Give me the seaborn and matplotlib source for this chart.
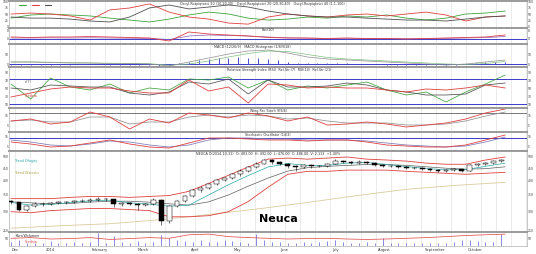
import numpy as np
import pandas as pd
import matplotlib
matplotlib.use("Agg")
import matplotlib.pyplot as plt
from matplotlib.ticker import NullLocator
import seaborn as sns

# ------------------------------------------------------------------ data
days_c = list(range(0, 249, 4))            # candle positions (trading days)
opens = [330, 326, 305, 316, 322, 320, 325, 328, 326, 330, 332, 335, 338, 336, 320, 324, 322, 318, 320, 335,
         275, 315, 330, 345, 365, 374, 388, 402, 410, 425, 440, 455, 470, 485, 476, 468, 460, 455, 462, 458,
         460, 470, 482, 478, 474, 478, 472, 465, 460, 458, 455, 452, 450, 446, 443, 440, 442, 445, 440, 462,
         468, 474, 480]
closes = [326, 305, 316, 322, 320, 325, 328, 326, 330, 332, 335, 338, 336, 320, 324, 322, 318, 320, 335, 275,
          315, 330, 345, 365, 374, 388, 402, 410, 425, 440, 455, 470, 485, 476, 468, 460, 455, 462, 458, 460,
          470, 482, 478, 474, 478, 472, 465, 460, 458, 455, 452, 450, 446, 443, 440, 442, 445, 440, 462, 468,
          474, 480, 486]
highs = [334, 328, 319, 326, 327, 329, 332, 331, 334, 336, 339, 342, 341, 338, 328, 327, 325, 324, 340, 336,
         318, 334, 349, 369, 380, 393, 406, 416, 430, 445, 460, 475, 492, 490, 480, 472, 464, 466, 466, 465,
         474, 490, 486, 482, 484, 482, 476, 469, 464, 462, 459, 456, 454, 450, 447, 446, 449, 448, 466, 472,
         478, 485, 492]
lows = [322, 300, 302, 313, 316, 317, 322, 321, 323, 327, 328, 331, 332, 312, 316, 318, 305, 314, 317, 265,
        270, 311, 327, 342, 360, 370, 384, 398, 405, 420, 436, 450, 466, 470, 462, 450, 440, 450, 452, 454,
        456, 466, 472, 468, 470, 466, 460, 455, 453, 450, 447, 445, 441, 438, 435, 436, 438, 434, 437, 458,
        464, 470, 476]
volume = [30, 45, 25, 20, 22, 35, 18, 25, 30, 20, 28, 90, 25, 70, 30, 25, 35, 20, 30, 80,
          60, 40, 35, 30, 45, 30, 28, 40, 35, 30, 25, 85, 45, 30, 28, 25, 22, 30, 25, 28,
          35, 45, 30, 25, 22, 28, 20, 60, 22, 18, 20, 25, 22, 18, 20, 25, 30, 45, 40, 35,
          30, 28, 85]

days_s = list(range(0, 251, 10))           # indicator sample positions
bb_upper = [338, 338, 338, 342, 345, 345, 342, 345, 348, 362, 390, 421, 455, 490, 495, 490, 495, 500, 490,
            486, 481, 472, 467, 467, 486, 500]
bb_lower = [299, 296, 302, 305, 308, 308, 305, 302, 285, 285, 288, 299, 329, 376, 425, 437, 437, 442, 442,
            442, 437, 433, 429, 425, 429, 433]
ma_short = [326, 318, 320, 326, 331, 333, 325, 321, 315, 318, 350, 385, 420, 455, 470, 462, 462, 472, 475,
            466, 457, 449, 443, 444, 458, 472]
ma_mid = [328, 325, 322, 323, 327, 330, 330, 327, 322, 318, 328, 350, 380, 410, 438, 452, 458, 462, 466,
          466, 462, 456, 450, 446, 448, 456]
days_l = list(range(0, 251, 25))
ma_long = [256, 262, 267, 277, 291, 307, 326, 348, 369, 383, 394]

osc_green = [33, 46, 50, 46, 42, 33, 25, 17, 29, 46, 58, 50, 33, 25, 29, 37.5, 33, 42, 37.5, 46, 33, 25,
             33, 50, 54, 62.5]
osc_red = [50, 54, 50, 42, 25, 67, 75, 92, 58, 37.5, 29, 12.5, 8, 37.5, 50, 42, 37.5, 46, 50, 42, 50, 58,
           46, 21, 37.5, 42]
osc_dark = [37.5, 33, 33, 29, 21, 17, 37.5, 75, 87.5, 71, 79, 87.5, 79, 62.5, 50, 42, 37.5, 37.5, 33, 29,
            25, 25, 21, 29, 37.5, 42]

roc_red = [2, 1.5, 2, 2, 2.5, 2, 1.5, 1, -2, 7, 5, 4, 3, 1.5, 1, 1, 0.5, 1, 0.5, 0.5, 0, 0.5, 1, 1.5, 2, 4]
roc_avg = [1, 1, 1.2, 1, 1.2, 1, 0.8, 0.6, -0.5, 3, 4, 3.5, 3, 2, 1.2, 0.8, 0.6, 0.7, 0.5, 0.4, 0.2, 0.3,
           0.6, 1, 1.4, 2.5]

macd_line = [2, 2, 1.5, 1, 1, 0.5, 0.5, 0, -2, 2, 6, 10, 13, 14, 11, 7, 5, 4, 3, 2, 1, 0, -1, 0, 2, 4]
macd_signal = [2, 2, 1.8, 1.3, 1, 0.8, 0.6, 0.3, -1.2, 0, 3, 7, 10.5, 13, 12.5, 9.5, 6.5, 5, 4, 3, 2, 1, 0,
               -0.5, 0.5, 2.5]
days_h = list(range(0, 251, 5))
macd_hist = [-0.5, -0.8, -1, -1, -0.8, -0.6, -0.5, -0.4, -0.3, -0.4, -0.5, -0.6, -0.5, -0.6, -0.8, -2.5,
             -1.5, 1, 2.5, 3.5, 4.5, 5.5, 6, 6.5, 6, 5.5, 5, 4, 2.5, 1.5, 1, 0.8, 1.2, 1.5, 1, 0.5, 0.3,
             -0.3, -0.5, -0.8, -1, -1.2, -1.3, -1.2, -1, -0.5, 0.5, 1.5, 2, 2.5, 2.5]

rsi_green = [60, 22.5, 75, 52.5, 45, 60, 37.5, 50, 45, 72.5, 70, 77.5, 50, 70, 45, 55, 50, 57.5, 65, 45,
             32.5, 40, 15, 40, 60, 82.5]
rsi_red = [27.5, 37.5, 47.5, 52.5, 50, 50, 42.5, 37.5, 37.5, 70, 42.5, 52.5, 12.5, 60, 57.5, 50, 52.5, 50,
           50, 45, 40, 47.5, 45, 50, 57.5, 50]
rsi_dark = [50, 45, 57.5, 55, 52.5, 52.5, 37.5, 32.5, 40, 65, 60, 72.5, 35, 70, 52.5, 52.5, 55, 62.5, 57.5,
            45, 40, 32.5, 32.5, 35, 57.5, 62.5]

wpc_red = [10, 12, 7, 9, 19, 14, 2, 12, 8, 18, 16, 13, 18, 15, 10, 14, 6, 7, 9, 7, 4, 6, 8, 12, 18, 22]
wpc_grey = [10, 11, 9, 9, 14, 14, 7, 9, 9, 14, 16, 14, 16, 15, 12, 13, 10, 8, 8, 8, 6, 6, 7, 10, 15, 19]

sto_red = [9, 7, 4, 5, 8, 11, 7, 4, 3, 8, 13, 13, 12, 11, 11, 10, 11, 11, 9, 6, 5, 4, 4, 6, 11, 16]
sto_blue = [11, 9, 6, 5, 7, 10, 9, 6, 4, 6, 11, 13, 13, 12, 12, 11, 11, 11, 10, 8, 6, 5, 4, 5, 9, 14]

vol_avg = [55, 60, 50, 53, 60, 47, 53, 60, 55, 80, 85, 67, 60, 55, 50, 53, 55, 50, 47, 50, 55, 60, 67, 75,
           80, 85]

month_pos = [2, 19.7, 45, 66.7, 93, 114.6, 138.4, 164, 189, 214.6, 235]
month_labels = ["Dec", "2014", "February", "March", "April", "May", "June", "July", "August",
                "September", "October"]
price_ticks = [250, 300, 350, 400, 450, 500]

# ------------------------------------------------------------------ style
sns.set_theme(style="white")
plt.rcParams['font.family'] = ['DejaVu Sans']

RED = "#e04040"
GREEN = "#3fa43f"
DARK = "#505050"
BLUE = "#3a3acc"
GREY = "#909090"
LBL = 2.2

fig = plt.figure(figsize=(5.36, 2.54), dpi=100)
W, H = 536.0, 254.0
XL, XR = 9, 527


def panel(top, bot):
    ax = fig.add_axes([XL / W, 1 - bot / H, (XR - XL) / W, (bot - top) / H])
    ax.set_facecolor("white")
    ax.set_xlim(-1, 261)
    for g in np.arange(2, 261, 7.6):
        ax.axvline(g, color="#dcdcdc", lw=0.4, zorder=0)
    ax.set_xticks(month_pos)
    ax.set_xticklabels([])
    ax.tick_params(axis="both", which="both", length=0, labelsize=LBL, pad=0.3,
                   labelleft=True, labelright=True, colors="#333333")
    for s in ["left", "right", "bottom"]:
        ax.spines[s].set_color("#b0b0b0")
        ax.spines[s].set_linewidth(0.5)
    ax.spines["top"].set_color("#9a9a9a")
    ax.spines["top"].set_linewidth(1.4)
    ax.set_xlabel("")
    ax.set_ylabel("")
    return ax


def line(ax, x, y, color, lw=0.6):
    sns.lineplot(x=x, y=y, ax=ax, color=color, linewidth=lw, legend=False)
    ax.set_xlabel("")
    ax.set_ylabel("")


def title(ax, txt, xpos=0.5):
    ax.text(xpos, 0.97, txt, transform=ax.transAxes, ha="center", va="top", fontsize=2.4, color="#333333")


# Panel 1 - oscillators
ax1 = panel(1, 28)
line(ax1, days_s, osc_green, GREEN)
line(ax1, days_s, osc_red, RED)
line(ax1, days_s, osc_dark, DARK)
ax1.set_ylim(-8, 104)
ax1.set_yticks([0, 25, 50, 75, 100])
title(ax1, "Oscyl.Rozpiętości 10 (10,20,30)   Oscyl.Rozpiętości 20 (20,30,40)   Oscyl.Rozpiętości 40 (1,1,100)", 0.49)
for i, c in enumerate([GREEN, RED, DARK]):
    ax1.plot([0.02 + i * 0.025, 0.032 + i * 0.025], [0.86, 0.86], transform=ax1.transAxes, color=c, lw=0.8)

# Panel 2 - ROC
ax2 = panel(28, 44)
ax2.axhline(0, color=BLUE, lw=0.7)
line(ax2, days_s, roc_avg, "#8a5cc0", 0.5)
line(ax2, days_s, roc_red, RED)
ax2.set_ylim(-5, 11)
ax2.set_yticks([0, 8])
title(ax2, "Roc(10)", 0.5)

# Panel 3 - MACD
ax3 = panel(44, 67)
ax3.axhline(0, color=BLUE, lw=0.7)
ax3.vlines(days_h, 0, macd_hist, color="#4a4ad0", lw=0.7)
line(ax3, days_s, macd_signal, "#7fc07f", 0.5)
line(ax3, days_s, macd_line, GREY, 0.5)
ax3.set_ylim(-3, 20)
ax3.set_yticks([0, 10])
title(ax3, "MACD (12/26/9)   MACD Histogram (1/8/9/18)", 0.47)

# Panel 4 - RSI
ax4 = panel(67, 108)
ax4.axhline(72.5, color=BLUE, lw=0.7)
ax4.axhline(10, color=BLUE, lw=0.7)
line(ax4, days_s, rsi_green, GREEN, 0.55)
line(ax4, days_s, rsi_dark, DARK, 0.55)
line(ax4, days_s, rsi_red, RED, 0.6)
ax4.set_ylim(0, 102.5)
ax4.set_yticks([10, 30, 50, 70, 90])
ax4.text(0.03, 0.62, "n(7)", transform=ax4.transAxes, fontsize=2.4, color="#555555")
ax4.text(0.03, 0.26, "Średnia", transform=ax4.transAxes, fontsize=2.4, color=RED)
ax4.text(0.42, 0.97, "Relative Strength Index (RSI)  Rel.Str.(7)  RSI(14)  Rel.Str.(21)", transform=ax4.transAxes,
         ha="left", va="top", fontsize=2.4, color="#333333")

# Panel 5 - Wing Pac
ax5 = panel(108, 132)
ax5.axhline(18, color="#777777", lw=0.7)
line(ax5, days_s, wpc_grey, GREY, 0.55)
line(ax5, days_s, wpc_red, RED, 0.6)
ax5.set_ylim(-1, 23)
ax5.set_yticks([5, 15])
title(ax5, "Wing Pac Stoch 9(9/4)", 0.5)

# Panel 6 - stochastic
ax6 = panel(132, 151)
ax6.axhline(13, color=BLUE, lw=0.7)
ax6.axhline(1, color=BLUE, lw=0.7)
line(ax6, days_s, sto_blue, "#7a7ab8", 0.55)
line(ax6, days_s, sto_red, RED, 0.6)
ax6.set_ylim(0, 19)
ax6.set_yticks([5, 15])
title(ax6, "Stochastic Oscillator (14/3)", 0.5)

# Panel 7 - price
ax7 = panel(151, 232)
ax7.set_yscale("log")
line(ax7, days_l, ma_long, "#d9cc9c", 0.6)
line(ax7, days_s, bb_upper, RED, 0.6)
line(ax7, days_s, bb_lower, RED, 0.6)
line(ax7, days_s, ma_mid, "#606060", 0.5)
line(ax7, days_s, ma_short, "#2aa6a6", 0.5)
o = np.array(opens); c = np.array(closes)
ax7.vlines(days_c, lows, highs, color="black", lw=0.4, zorder=3)
up = c >= o
ax7.bar(np.array(days_c)[up], (c - o)[up], bottom=o[up], width=2.4, color="white",
        edgecolor="black", linewidth=0.35, zorder=4)
ax7.bar(np.array(days_c)[~up], (o - c)[~up], bottom=c[~up], width=2.4, color="black",
        edgecolor="black", linewidth=0.35, zorder=4)
ax7.set_ylim(247, 529)
ax7.set_yticks(price_ticks)
ax7.set_yticklabels([str(t) for t in price_ticks])
ax7.yaxis.set_minor_locator(NullLocator())
ax7.tick_params(axis="y", which="both", length=0, labelsize=LBL, pad=0.3, labelleft=True, labelright=True)
ax7.text(0.5, 0.985, "NEUCA D(2014-10-31)  O: 483.00  H: 492.00  L: 476.00  C: 486.00  V: 2,113  +1.40%",
         transform=ax7.transAxes, ha="center", va="top", fontsize=2.4, color="#333333")
ax7.text(0.012, 0.86, "Trend Długiej", transform=ax7.transAxes, fontsize=2.4, color="#2aa6a6")
ax7.text(0.012, 0.72, "Trend Wzrostu", transform=ax7.transAxes, fontsize=2.4, color="#a8a040")
ax7.text(0.483, 0.12, "Neuca", transform=ax7.transAxes, fontsize=8, fontweight="bold", color="black")

# Panel 8 - volume
ax8 = panel(232, 246)
ax8.vlines(days_c, 0, volume, color="#5a5ad8", lw=0.5)
line(ax8, days_s, vol_avg, RED, 0.5)
ax8.set_ylim(0, 100)
ax8.set_yticks([50])
ax8.text(0.012, 0.62, "Kurs/Wolumen", transform=ax8.transAxes, fontsize=2.4, color="#333333")
ax8.text(0.03, 0.2, "Średnia", transform=ax8.transAxes, fontsize=2.4, color=RED)
ax8.set_xticks(month_pos)
ax8.set_xticklabels(month_labels)
ax8.set_xticks(np.arange(2, 261, 7.6), minor=True)
ax8.tick_params(axis="x", which="major", labelsize=2.6, pad=0.3, length=1.2, labelbottom=True)
ax8.tick_params(axis="x", which="minor", length=0.8, color="#555555")

fig.savefig("out.png", dpi=100, facecolor="white")
